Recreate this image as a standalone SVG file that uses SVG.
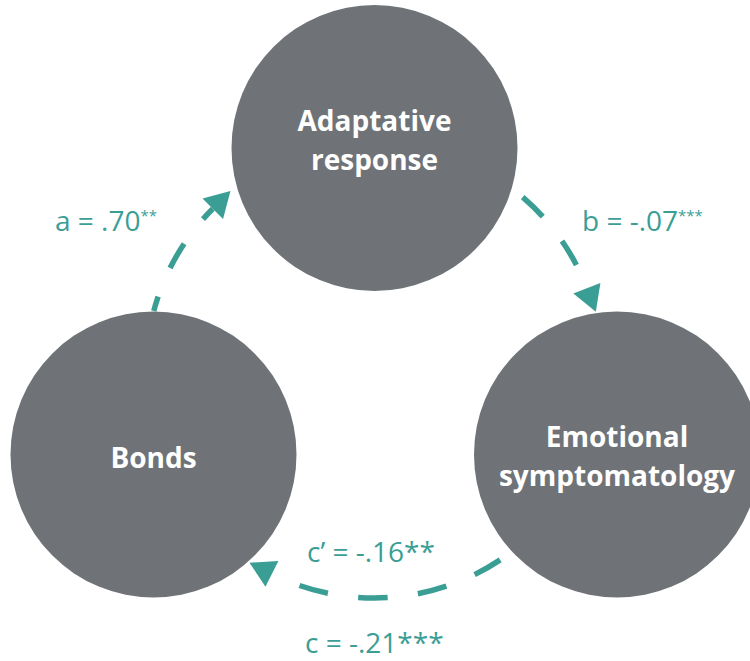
<svg xmlns="http://www.w3.org/2000/svg" width="750" height="661" viewBox="0 0 750 661">
  <style>
    .node circle { fill: #6f7377; }
    .node text { fill: #ffffff; font-family: "Open Sans", "Liberation Sans", sans-serif; font-weight: 700; font-size: 28px; text-anchor: middle; }
    .link { fill: none; stroke: #3b9e95; stroke-width: 5.5; stroke-linecap: butt; }
    .label { fill: #3b9e95; font-family: "Open Sans", "Liberation Sans", sans-serif; font-size: 28px; }
    .sup { font-size: 15px; }
  </style>
  <defs>
    <marker id="head" markerUnits="userSpaceOnUse" viewBox="0 -15 26 30" markerWidth="26" markerHeight="30" refX="0" refY="0" orient="auto" overflow="visible">
      <path d="M0,-14.5 L25,0 L0,14.5 Z" fill="#3b9e95"/>
    </marker>
  </defs>
  <rect width="750" height="661" fill="#ffffff"/>

  <!-- connectors: arcs of one ring around the three nodes -->
  <g id="connectors">
    <path class="link" d="M153.77,310.99 A228,228 0 0 1 212.78,208.78" stroke-dasharray="28 31" stroke-dashoffset="13" marker-end="url(#head)"/>
    <path class="link" d="M522.68,197.15 A228,228 0 0 1 586.86,288.29" stroke-dasharray="28 31" marker-end="url(#head)"/>
    <path class="link" d="M500.18,559.9 A228,228 0 0 1 271.93,573.88" stroke-dasharray="29.5 30.5" marker-end="url(#head)"/>
  </g>

  <g id="node-adaptative" class="node">
    <circle cx="374.5" cy="148" r="143"/>
    <text x="374.5" y="131">Adaptative</text>
    <text x="374.5" y="170">response</text>
  </g>
  <g id="node-bonds" class="node">
    <circle cx="153.5" cy="454.5" r="143"/>
    <text x="153.5" y="468">Bonds</text>
  </g>
  <g id="node-emotional" class="node">
    <circle cx="617" cy="454.5" r="143"/>
    <text x="617" y="447">Emotional</text>
    <text x="617" y="486">symptomatology</text>
  </g>

  <g id="labels">
    <text class="label" x="55" y="231">a = .70<tspan class="sup" dy="-10">**</tspan></text>
    <text class="label" x="582" y="231">b = -.07<tspan class="sup" dy="-10">***</tspan></text>
    <text class="label" x="307" y="562">c’ = -.16**</text>
    <text class="label" x="305" y="653">c = -.21***</text>
  </g>
</svg>
